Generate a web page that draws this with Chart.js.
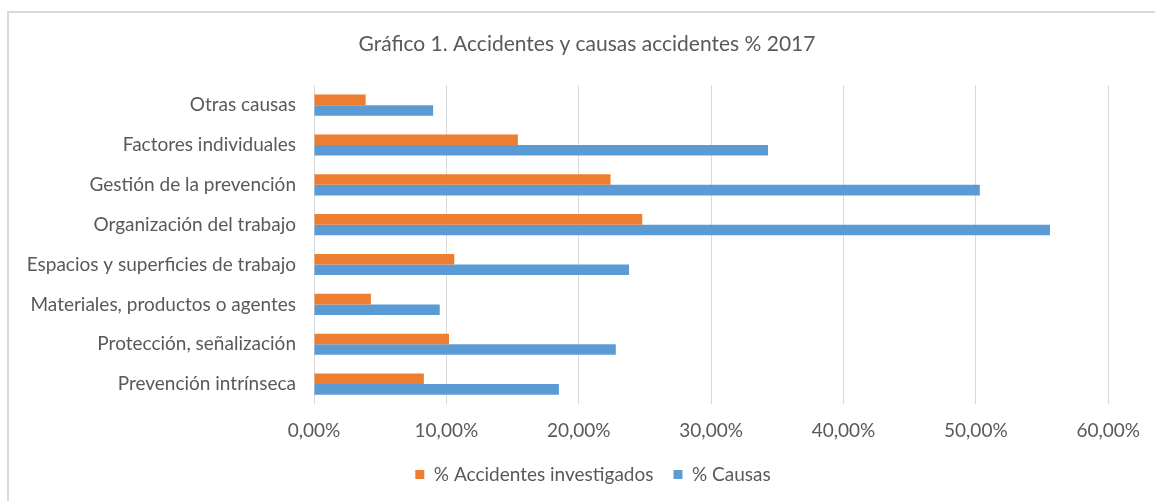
<!DOCTYPE html>
<html lang="es">
<head>
<meta charset="utf-8">
<title>Gráfico 1. Accidentes y causas accidentes % 2017</title>
<script src="https://cdn.jsdelivr.net/npm/chart.js@4/dist/chart.umd.min.js"></script>
<style>
    html, body { margin: 0; padding: 0; background: #fff; }
    #wrap { position: relative; width: 1155px; height: 501px; overflow: hidden; }
    #frame {
        position: absolute; left: 7px; top: 11px; width: 1160px; height: 500px;
        border: 2px solid #d9d9d9; box-sizing: border-box;
    }
    #chart-box { position: absolute; left: 0; top: 0; width: 1155px; height: 501px; }
</style>
</head>
<body>
<div id="wrap">
    <div id="frame"></div>
    <div id="chart-box"><canvas id="accidents-chart"></canvas></div>
</div>
<script>
// categories, top to bottom as shown
const categories = [
    'Otras causas',
    'Factores individuales',
    'Gestión de la prevención',
    'Organización del trabajo',
    'Espacios y superficies de trabajo',
    'Materiales, productos o agentes',
    'Protección, señalización',
    'Prevención intrínseca'
];

// values in percent
const accidentesInvestigados = [3.9, 15.4, 22.4, 24.8, 10.6, 4.3, 10.2, 8.3];
const causas = [9.0, 34.3, 50.3, 55.6, 23.8, 9.5, 22.8, 18.5];

const seriesNames = ['% Accidentes investigados', '% Causas'];
const xTicks = [0, 10, 20, 30, 40, 50, 60];

const textColor = '#595959';
const fontFamily = 'Lato, "Open Sans", sans-serif';

function formatPct(v) {
    return v.toFixed(2).replace('.', ',') + '%';
}

// title and legend are centred on the whole frame in the original,
// not on the area left of the right padding
const shiftBlocks = {
    id: 'shiftBlocks',
    afterLayout(chart) {
        if (chart.titleBlock) chart.titleBlock.left = 63;
        if (chart.legend) chart.legend.left = 75;
    }
};

new Chart(document.getElementById('accidents-chart'), {
    type: 'bar',
    data: {
        labels: categories,
        datasets: [
            {
                label: seriesNames[0],
                data: accidentesInvestigados,
                backgroundColor: '#ED7D31',
                borderWidth: 0
            },
            {
                label: seriesNames[1],
                data: causas,
                backgroundColor: '#5B9BD5',
                borderWidth: 0
            }
        ]
    },
    options: {
        indexAxis: 'y',
        responsive: true,
        maintainAspectRatio: false,
        animation: false,
        datasets: {
            bar: { categoryPercentage: 0.53, barPercentage: 1.0 }
        },
        layout: { padding: { left: 0, right: 44, top: 0, bottom: 7 } },
        scales: {
            x: {
                min: 0,
                max: 60,
                afterBuildTicks: (scale) => {
                    scale.ticks = xTicks.map(v => ({ value: v }));
                },
                afterFit: (scale) => { scale.height = 41; },
                grid: { color: '#d9d9d9', lineWidth: 1, drawTicks: false },
                border: { display: false },
                ticks: {
                    color: textColor,
                    padding: 15,
                    font: { family: fontFamily, size: 19 },
                    callback: (v) => formatPct(v)
                }
            },
            y: {
                grid: { display: false, drawTicks: false },
                border: { display: false },
                afterFit: (scale) => { scale.width = 314; },
                ticks: {
                    color: textColor,
                    padding: 18,
                    font: { family: fontFamily, size: 19 }
                }
            }
        },
        plugins: {
            title: {
                display: true,
                text: 'Gráfico 1. Accidentes y causas accidentes % 2017',
                color: textColor,
                font: { family: fontFamily, size: 21, weight: 'normal' },
                padding: { top: 32, bottom: 28 }
            },
            legend: {
                position: 'bottom',
                labels: {
                    color: textColor,
                    boxWidth: 9,
                    boxHeight: 9,
                    padding: 20,
                    font: { family: fontFamily, size: 19 }
                }
            },
            tooltip: { enabled: false }
        }
    },
    plugins: [shiftBlocks]
});
</script>
</body>
</html>
